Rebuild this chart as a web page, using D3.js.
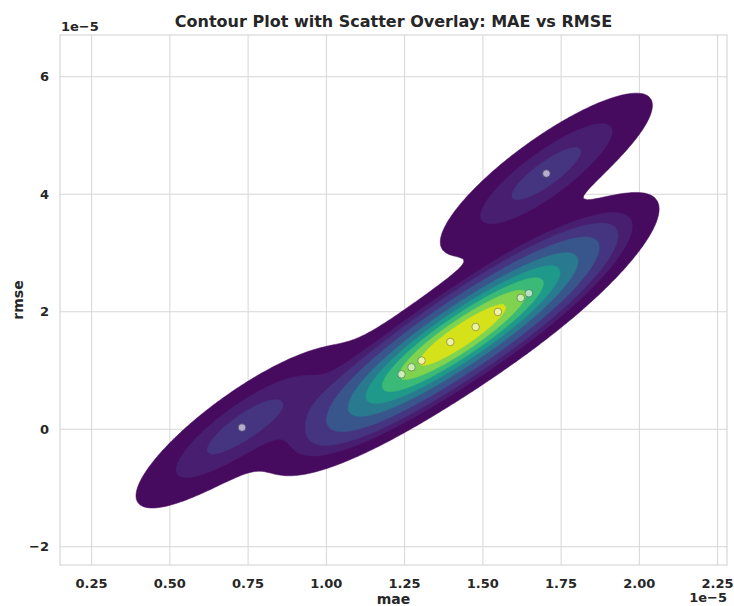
<!DOCTYPE html>
<html>
<head>
<meta charset="utf-8">
<script src="https://cdn.jsdelivr.net/npm/d3@7"></script>
<style>
  body { margin: 0; background: #fff; }
  text { font-family: "DejaVu Sans", sans-serif; fill: #262626; }
</style>
</head>
<body>
<script>
// values in units of 1e-5
var maeValues  = [1.240, 1.272, 1.304, 1.396, 1.477, 1.548, 1.621, 1.647, 1.703, 0.7305];
var rmseValues = [0.936, 1.055, 1.169, 1.486, 1.741, 1.997, 2.235, 2.315, 4.352, 0.029];
var xTicks = [0.25, 0.50, 0.75, 1.00, 1.25, 1.50, 1.75, 2.00, 2.25];
var yTicks = [-2, 0, 2, 4, 6];
var xDomain = [0.149, 2.28];
var yDomain = [-2.31, 6.71];

var W = 734, H = 606;
var m = {left: 60, right: 7, top: 35, bottom: 41};

var svg = d3.select("body").append("svg")
  .attr("width", W).attr("height", H);

var x = d3.scaleLinear().domain(xDomain).range([m.left, W - m.right]);
var y = d3.scaleLinear().domain(yDomain).range([H - m.bottom, m.top]);

// gaussian kde, scott factor, full covariance (like scipy / seaborn)
function kde2d(xs, ys) {
  var n = xs.length;
  var mx = d3.mean(xs), my = d3.mean(ys);
  var sxx = 0, syy = 0, sxy = 0;
  for (var i = 0; i < n; i++) {
    sxx += (xs[i]-mx)*(xs[i]-mx);
    syy += (ys[i]-my)*(ys[i]-my);
    sxy += (xs[i]-mx)*(ys[i]-my);
  }
  var f = Math.pow(n, -1/6), f2 = f*f;
  var cxx = sxx/(n-1)*f2, cyy = syy/(n-1)*f2, cxy = sxy/(n-1)*f2;
  var det = cxx*cyy - cxy*cxy;
  var ixx = cyy/det, iyy = cxx/det, ixy = -cxy/det;
  var fn = function(px, py) {
    var s = 0;
    for (var i = 0; i < n; i++) {
      var dx = px - xs[i], dy = py - ys[i];
      s += Math.exp(-0.5*(dx*dx*ixx + 2*dx*dy*ixy + dy*dy*iyy));
    }
    return s;
  };
  fn.bx = Math.sqrt(cxx); fn.by = Math.sqrt(cyy);
  return fn;
}

var dens = kde2d(maeValues, rmseValues);
var N = 200, cut = 3;
var gx0 = d3.min(maeValues) - cut*dens.bx, gx1 = d3.max(maeValues) + cut*dens.bx;
var gy0 = d3.min(rmseValues) - cut*dens.by, gy1 = d3.max(rmseValues) + cut*dens.by;
var dgx = (gx1-gx0)/(N-1), dgy = (gy1-gy0)/(N-1);

var grid = new Array(N*N);
for (var j = 0; j < N; j++) {
  for (var i = 0; i < N; i++) {
    grid[j*N + i] = dens(gx0 + i*dgx, gy0 + j*dgy);
  }
}

// iso-proportion levels (levels=10, thresh=0.05)
var sorted = grid.slice().sort(function(a, b) { return b - a; });
var total = d3.sum(sorted), cum = [], acc = 0;
sorted.forEach(function(v) { acc += v; cum.push(acc/total); });
var levels = d3.range(10).map(function(k) {
  var q = 1 - (0.05 + k*(0.95/9));
  var idx = d3.bisectLeft(cum, q - 1e-12);
  return sorted[Math.min(idx, sorted.length-1)];
});

// colour each band by its midpoint, like contourf
var lo = levels[0], hi = levels[levels.length-1];
var bands = levels.slice(0, -1).map(function(l, k) {
  return {level: l, color: d3.interpolateViridis(((l + levels[k+1])/2 - lo)/(hi - lo))};
});

var proj = d3.geoTransform({
  point: function(gx, gy) {
    this.stream.point(x(gx0 + (gx-0.5)*dgx), y(gy0 + (gy-0.5)*dgy));
  }
});
var path = d3.geoPath(proj);

svg.append("defs").append("clipPath").attr("id", "clip")
  .append("rect")
  .attr("x", m.left).attr("y", m.top)
  .attr("width", W - m.left - m.right).attr("height", H - m.top - m.bottom);

// grid
svg.append("g").selectAll("line").data(xTicks).enter().append("line")
  .attr("x1", function(d) { return x(d); }).attr("x2", function(d) { return x(d); })
  .attr("y1", m.top).attr("y2", H - m.bottom)
  .attr("stroke", "#d6d6d6").attr("stroke-width", 1);
svg.append("g").selectAll("line").data(yTicks).enter().append("line")
  .attr("y1", function(d) { return y(d); }).attr("y2", function(d) { return y(d); })
  .attr("x1", m.left).attr("x2", W - m.right)
  .attr("stroke", "#d6d6d6").attr("stroke-width", 1);

var contours = d3.contours().size([N, N]).thresholds(bands.map(function(b) { return b.level; }))(grid);

svg.append("g").attr("clip-path", "url(#clip)")
  .selectAll("path").data(contours).enter().append("path")
  .attr("d", path)
  .attr("fill", function(d, k) { return bands[k].color; })
  .attr("stroke", function(d, k) { return bands[k].color; })
  .attr("stroke-width", 0.5);

// frame
svg.append("rect")
  .attr("x", m.left).attr("y", m.top)
  .attr("width", W - m.left - m.right).attr("height", H - m.top - m.bottom)
  .attr("fill", "none").attr("stroke", "#d0d0d0").attr("stroke-width", 1);

// scatter
svg.append("g").selectAll("circle").data(maeValues).enter().append("circle")
  .attr("cx", function(d) { return x(d); })
  .attr("cy", function(d, i) { return y(rmseValues[i]); })
  .attr("r", 3.8)
  .attr("fill", "#fff")
  .attr("stroke", "#555")
  .attr("stroke-width", 0.8)
  .attr("opacity", 0.6);

// tick labels
svg.append("g").selectAll("text").data(xTicks).enter().append("text")
  .attr("x", function(d) { return x(d); }).attr("y", 588)
  .attr("text-anchor", "middle")
  .style("font-size", "13px").style("font-weight", "bold")
  .text(function(d) { return d3.format(".2f")(d); });
svg.append("g").selectAll("text").data(yTicks).enter().append("text")
  .attr("x", 49).attr("y", function(d) { return y(d) + 4.5; })
  .attr("text-anchor", "end")
  .style("font-size", "13px").style("font-weight", "bold")
  .text(function(d) { return d < 0 ? "\u2212" + Math.abs(d) : d; });

// offset labels
svg.append("text").attr("x", 61).attr("y", 31)
  .style("font-size", "13px").style("font-weight", "bold").text("1e\u22125");
svg.append("text").attr("x", 727).attr("y", 602).attr("text-anchor", "end")
  .style("font-size", "13px").style("font-weight", "bold").text("1e\u22125");

// axis titles
svg.append("text").attr("x", (m.left + W - m.right)/2).attr("y", 604)
  .attr("text-anchor", "middle")
  .style("font-size", "14px").style("font-weight", "bold").text("mae");
svg.append("text")
  .attr("transform", "translate(23," + ((m.top + H - m.bottom)/2) + ") rotate(-90)")
  .attr("text-anchor", "middle")
  .style("font-size", "14px").style("font-weight", "bold").text("rmse");

svg.append("text").attr("x", (m.left + W - m.right)/2).attr("y", 27)
  .attr("text-anchor", "middle")
  .style("font-size", "16px").style("font-weight", "bold")
  .text("Contour Plot with Scatter Overlay: MAE vs RMSE");
</script>
</body>
</html>
